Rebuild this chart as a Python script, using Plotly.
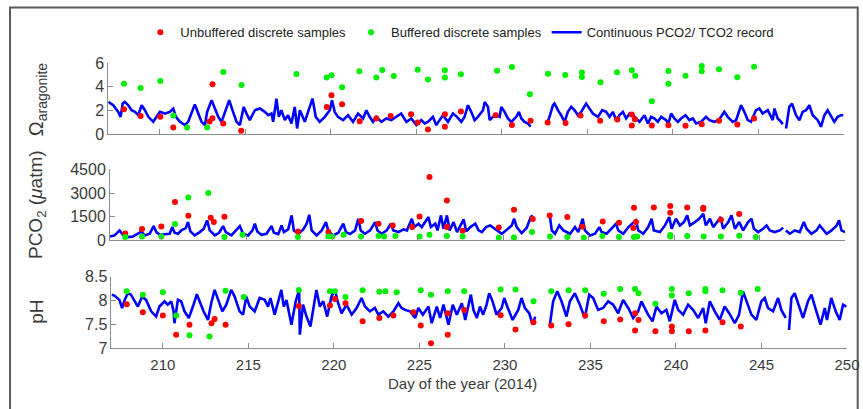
import plotly.graph_objects as go

# ---------------- data ----------------
# Panel 1: Omega aragonite
om_line_day = [207.00, 207.29, 207.58, 207.72, 207.84, 207.97, 208.17, 208.36, 208.56, 208.75,
               208.95, 209.14, 209.34, 209.63, 209.82, 210.02, 210.31, 210.60, 210.80, 210.95,
               211.19, 211.48, 211.67, 212.06, 212.26, 212.45, 212.65, 212.78, 213.04, 213.23,
               213.43, 213.62, 213.87, 214.07, 214.26, 214.50, 214.69, 214.92, 215.08, 215.27,
               215.57, 215.86, 216.15, 216.35, 216.54, 216.64, 216.83, 216.97, 217.12, 217.32,
               217.51, 217.71, 217.90, 218.04, 218.20, 218.49, 218.68, 218.94, 219.13, 219.36,
               219.66, 219.95, 220.08, 220.24, 220.43, 220.73, 221.02, 221.31, 221.60, 221.90,
               222.09, 222.28, 222.48, 222.67, 222.97, 223.26, 223.55, 223.84, 224.13, 224.43,
               224.72, 225.01, 225.30, 225.50, 225.69, 225.98, 226.18, 226.37, 226.57, 226.86,
               227.15, 227.39, 227.64, 227.83, 228.03, 228.22, 228.42, 228.61, 228.91, 229.01,
               229.20, 229.30, 229.49, 229.69, 229.88, 229.98, 230.17, 230.37, 230.56, 230.86,
               231.01, 231.15, 231.34, 231.54, 231.69, None, 232.65, 232.80, 233.00, 233.09,
               233.29, 233.48, 233.68, 233.87, 234.07, 234.26, 234.46, 234.65, 234.94, 235.14,
               235.33, 235.63, 235.88, 236.11, 236.31, 236.50, 236.70, 236.89, 237.09, 237.28,
               237.48, 237.77, 238.06, 238.35, 238.55, 238.74, 238.94, 239.13, 239.33, 239.62,
               239.75, 239.91, 240.10, 240.30, 240.49, 240.75, 240.98, 241.18, 241.37, 241.66,
               241.95, 242.15, 242.44, 242.69, 243.02, 243.22, 243.51, 243.71, 244.00, 244.19,
               244.39, 244.58, 244.87, 245.07, 245.26, 245.56, 245.85, 245.95, 246.14, 246.34,
               246.43, None, 246.63, 246.82, 246.98, 247.21, 247.41, 247.60, 247.80, 247.99,
               248.19, 248.48, 248.67, 248.87, 249.06, 249.26, 249.45, 249.65, 249.84, 249.98]
om_line_val = [2.72, 2.44, 1.88, 1.46, 2.58, 2.72, 2.44, 2.02, 1.88, 1.60,
               2.44, 2.02, 1.46, 1.04, 1.46, 1.88, 1.74, 1.88, 2.16, 1.46,
               1.04, 0.76, 1.04, 2.51, 1.74, 1.04, 0.76, 1.88, 2.86, 2.16,
               1.46, 1.04, 2.02, 2.86, 2.02, 1.04, 0.76, 2.30, 1.74, 1.18,
               2.02, 2.16, 1.88, 1.60, 1.74, 1.04, 3.00, 1.46, 2.02, 1.18,
               1.60, 0.90, 2.30, 0.48, 2.02, 1.04, 1.88, 3.00, 1.46, 1.04,
               1.46, 2.02, 2.86, 1.88, 1.46, 1.18, 1.60, 1.04, 1.74, 1.32,
               2.02, 1.46, 1.04, 1.46, 1.04, 1.32, 1.18, 1.46, 1.74, 1.04,
               1.32, 0.76, 1.18, 0.90, 1.04, 1.46, 0.76, 1.18, 1.60, 1.04,
               1.74, 1.46, 1.04, 1.46, 2.44, 1.88, 1.18, 1.46, 2.02, 2.72,
               2.30, 1.18, 1.46, 1.60, 1.46, 2.30, 1.88, 1.32, 1.04, 1.46,
               1.88, 1.32, 1.04, 0.90, 0.62, None, 0.90, 1.46, 2.44, 2.58,
               2.02, 1.60, 1.04, 1.88, 2.30, 2.02, 1.60, 1.88, 2.58, 2.16,
               1.74, 1.46, 2.02, 1.88, 1.46, 1.88, 1.18, 1.60, 1.88, 1.32,
               1.74, 1.46, 1.04, 1.60, 0.90, 1.46, 1.32, 1.04, 1.46, 1.18,
               0.90, 1.74, 1.32, 1.04, 1.32, 1.60, 1.18, 1.32, 0.90, 1.04,
               1.46, 1.18, 1.04, 1.18, 1.88, 1.46, 1.04, 1.18, 2.44, 1.88,
               1.18, 1.04, 2.02, 2.16, 1.74, 2.02, 1.18, 2.16, 1.32, 1.04,
               0.84, None, 0.48, 2.30, 2.58, 1.60, 1.18, 1.88, 2.02, 2.44,
               1.60, 1.18, 0.62, 1.60, 2.02, 1.46, 1.04, 1.46, 1.60, 1.60]

om_unbuf_day = [207.92, 208.89, 210.04, 210.80, 212.92, 213.09, 213.09, 213.72, 214.77, 219.77,
                220.05, 220.67, 221.70, 222.67, 223.51, 224.70, 225.09, 225.69, 226.68, 226.68,
                227.62, 229.65, 230.60, 231.69, 232.69, 233.74, 234.61, 235.76, 236.76, 237.61,
                237.79, 237.61, 238.78, 239.75, 240.75, 241.70, 242.71, 243.78, 244.76]
om_unbuf_val = [2.10, 1.54, 1.46, 0.56, 1.07, 1.35, 4.21, 0.90, 0.28, 2.30,
                3.28, 2.52, 1.09, 1.32, 1.54, 1.68, 0.98, 0.39, 1.68, 0.62,
                1.91, 1.60, 0.78, 1.12, 0.98, 0.95, 1.57, 1.12, 1.23, 1.65,
                1.26, 0.73, 0.73, 0.76, 0.70, 0.84, 1.12, 0.81, 1.32]

om_buf_day = [207.92, 208.89, 210.04, 210.80, 211.61, 212.78, 213.72, 214.79, 218.00, 219.77,
              220.05, 220.67, 221.68, 222.67, 223.02, 223.69, 225.09, 225.69, 226.68, 226.68,
              227.62, 229.73, 230.60, 231.65, 232.71, 233.72, 234.69, 234.69, 235.78, 236.74,
              237.61, 237.81, 238.78, 239.75, 239.75, 240.75, 241.70, 241.70, 242.71, 243.78,
              244.76]
om_buf_val = [4.26, 3.90, 4.49, 1.57, 0.56, 0.56, 5.24, 4.15, 5.07, 4.77,
              4.96, 3.95, 5.30, 4.77, 5.41, 4.91, 5.44, 4.60, 5.38, 4.77,
              5.05, 5.35, 5.66, 3.36, 5.10, 4.99, 5.19, 4.82, 4.37, 5.21,
              5.38, 4.93, 2.78, 5.33, 4.26, 4.93, 5.75, 5.30, 5.47, 4.79,
              5.69]

# Panel 2: PCO2 (uatm)
pco2_line_day = [207.00, 207.27, 207.56, 207.75, 208.05, 208.34, 208.63, 208.83, 209.02, 209.32,
                 209.55, 209.71, 209.90, 210.20, 210.49, 210.64, 210.78, 210.98, 211.17, 211.43,
                 211.56, 211.70, 211.95, 212.25, 212.48, 212.68, 212.83, 213.13, 213.38, 213.61,
                 213.77, 214.10, 214.39, 214.59, 214.79, 215.08, 215.33, 215.47, 215.61, 215.86,
                 216.15, 216.45, 216.58, 216.84, 217.03, 217.17, 217.42, 217.62, 217.75, 218.01,
                 218.30, 218.50, 218.65, 218.79, 219.08, 219.38, 219.63, 219.77, 220.06, 220.35,
                 220.64, 220.80, 221.04, 221.33, 221.52, 221.66, 221.91, 222.21, 222.50, 222.64,
                 222.89, 223.18, 223.42, 223.57, 223.87, 224.16, 224.36, 224.65, 224.79, 225.04,
                 225.23, 225.43, 225.62, 225.76, 226.02, 226.15, 226.35, 226.50, 226.70, 226.86,
                 227.09, 227.29, 227.48, 227.68, 227.83, 228.07, 228.36, 228.55, 228.74, 228.99,
                 229.23, 229.52, 229.67, 229.91, 230.20, 230.49, 230.63, 230.78, 231.07, 231.37,
                 231.60, 231.72, None, 232.73, 232.83, 233.02, 233.27, 233.51, 233.70, 233.90,
                 234.19, 234.38, 234.64, 234.77, 235.07, 235.36, 235.61, 235.75, 236.04, 236.33,
                 236.59, 236.72, 237.01, 237.31, 237.60, 237.75, 237.89, 238.18, 238.47, 238.67,
                 238.80, 239.16, 239.45, 239.70, 239.84, 240.09, 240.32, 240.56, 240.75, 240.91,
                 241.20, 241.45, 241.69, 241.84, 242.08, 242.27, 242.50, 242.70, 242.85, 243.15,
                 243.34, 243.54, 243.79, 244.02, 244.31, 244.51, 244.65, 244.90, 245.19, 245.39,
                 245.58, 245.87, 246.16, 246.36, None, 246.52, 246.75, 247.04, 247.33, 247.57,
                 247.73, 248.01, 248.31, 248.50, 248.66, 248.90, 249.19, 249.49, 249.63, 249.77,
                 249.98]
pco2_line_val = [254, 317, 634, 359, 211, 254, 423, 570, 317, 423,
                 909, 528, 359, 401, 423, 845, 486, 423, 634, 782,
                 1162, 570, 317, 528, 740, 1268, 634, 317, 486, 909,
                 528, 317, 634, 909, 401, 317, 634, 1057, 570, 359,
                 423, 909, 486, 401, 951, 528, 697, 1585, 634, 423,
                 697, 1057, 1627, 634, 317, 634, 1162, 570, 317, 486,
                 1057, 528, 401, 634, 1373, 634, 423, 634, 1162, 634,
                 423, 634, 1057, 634, 528, 697, 634, 1373, 845, 1057,
                 845, 1162, 1479, 845, 1057, 634, 1585, 740, 1585, 634,
                 1162, 528, 951, 1331, 570, 845, 1057, 634, 528, 845,
                 951, 740, 634, 423, 676, 951, 1373, 845, 465, 803,
                 1479, 1585, None, 1479, 634, 423, 951, 634, 528, 423,
                 845, 528, 1373, 634, 317, 423, 845, 528, 423, 740,
                 1057, 634, 423, 845, 1162, 1268, 634, 423, 845, 1373,
                 634, 528, 951, 1479, 740, 1373, 951, 1162, 1585, 951,
                 1162, 1373, 1690, 951, 1373, 845, 1162, 1479, 740, 1162,
                 1585, 740, 1162, 634, 1162, 1373, 740, 528, 740, 951,
                 634, 528, 634, 803, None, 634, 423, 634, 528, 1162,
                 740, 423, 634, 951, 740, 423, 634, 951, 1268, 634,
                 528]

pco2_unbuf_day = [207.89, 208.87, 210.00, 210.80, 211.58, 212.89, 213.07, 213.69, 217.99, 219.77,
                  221.68, 222.70, 223.53, 224.67, 225.10, 225.68, 226.70, 226.70, 227.62, 229.73,
                  230.62, 231.72, 232.71, 233.74, 234.62, 235.81, 236.76, 237.64, 237.75, 237.60,
                  238.80, 239.76, 239.76, 240.75, 241.69, 241.69, 242.72, 243.79]
pco2_unbuf_val = [444, 718, 887, 2430, 1564, 1437, 1162, 1500, 570, 528,
                  1226, 1057, 951, 845, 1521, 4015, 2536, 845, 613, 824,
                  1944, 1352, 1585, 1479, 866, 1204, 1120, 2071, 1162, 782,
                  2092, 2176, 1754, 2092, 2071, 1986, 1310, 1669]

pco2_buf_day = [207.89, 208.87, 210.00, 210.80, 211.58, 212.75, 213.69, 214.75, 217.99, 219.77,
                220.00, 220.66, 221.68, 222.70, 223.03, 223.69, 225.10, 225.68, 226.70, 227.62,
                229.73, 230.62, 231.68, 232.73, 233.74, 234.70, 235.79, 236.76, 237.64, 237.83,
                239.76, 239.76, 240.75, 241.71, 242.72, 243.79, 244.76]
pco2_buf_val = [211, 254, 254, 1035, 2726, 3000, 211, 359, 211, 254,
                254, 359, 254, 275, 254, 275, 254, 359, 275, 254,
                169, 190, 528, 254, 211, 169, 275, 211, 211, 254,
                338, 254, 275, 254, 254, 296, 211]

# Panel 3: pH
ph_line_day = [207.00, 207.17, 207.46, 207.62, 207.75, 207.95, 208.14, 208.34, 208.54, 208.79,
               209.02, 209.32, 209.61, 209.80, 210.10, 210.29, 210.49, 210.63, 210.68, 210.88,
               211.07, 211.27, 211.52, 211.76, 211.99, 212.15, 212.38, 212.64, 212.83, 213.03,
               213.22, 213.48, 213.71, 214.00, 214.20, 214.49, 214.69, 214.88, 215.08, 215.37,
               215.66, 215.96, 216.15, 216.29, 216.54, 216.93, 217.07, 217.23, 217.52, 217.77,
               217.97, 218.01, 218.20, 218.40, 218.63, 218.98, 219.18, 219.38, 219.61, 219.86,
               220.06, 220.25, 220.45, 220.74, 221.04, 221.33, 221.62, 221.82, 222.11, 222.40,
               222.60, 222.89, 223.18, 223.48, 223.77, 223.96, 224.16, 224.45, 224.75, 224.94,
               225.20, 225.53, 225.72, 226.02, 226.21, 226.41, 226.70, 226.95, 227.19, 227.48,
               227.68, 228.01, 228.16, 228.36, 228.54, 228.73, 228.93, 229.08, 229.28, 229.51,
               229.81, 229.96, 230.14, 230.45, 230.78, 230.97, 231.17, 231.42, 231.62, 231.77,
               None, 232.63, 232.82, 233.06, 233.31, 233.60, 233.80, 234.09, 234.38, 234.67,
               234.93, 235.16, 235.45, 235.74, 236.04, 236.33, 236.62, 236.91, 237.21, 237.50,
               237.79, 237.98, 238.18, 238.37, 238.63, 238.86, 239.15, 239.44, 239.64, 239.93,
               240.13, 240.42, 240.71, 241.00, 241.30, 241.59, 241.74, 241.98, 242.27, 242.56,
               242.85, 243.11, 243.44, 243.69, 243.92, 244.16, 244.41, 244.70, 244.99, 245.19,
               245.38, 245.68, 245.97, 246.16, 246.42, None, 246.61, 246.75, 246.94, 247.23,
               247.43, 247.72, 247.92, 248.21, 248.45, 248.70, 248.83, 249.08, 249.34, 249.57,
               249.77, 249.96]
ph_line_val = [8.12, 8.10, 8.01, 7.84, 7.99, 8.15, 8.12, 7.98, 7.87, 8.08,
               8.01, 7.77, 7.66, 7.87, 7.98, 7.91, 7.98, 7.77, 7.52, 8.01,
               7.98, 7.77, 7.63, 7.87, 8.13, 7.98, 7.77, 7.59, 7.94, 8.22,
               8.01, 7.77, 7.91, 8.22, 8.08, 7.77, 7.70, 8.08, 7.87, 7.77,
               8.05, 8.01, 7.87, 8.05, 7.70, 8.22, 7.87, 8.01, 7.49, 7.98,
               8.22, 7.28, 7.91, 7.66, 7.45, 8.22, 7.87, 7.98, 7.66, 8.08,
               8.22, 7.94, 7.73, 7.91, 7.70, 7.84, 8.05, 7.87, 7.77, 7.84,
               7.70, 7.77, 7.66, 7.77, 7.94, 7.84, 7.80, 7.77, 7.63, 7.84,
               7.70, 7.87, 7.52, 7.87, 7.63, 7.91, 7.49, 7.91, 7.70, 7.94,
               7.59, 8.12, 7.80, 7.63, 7.87, 7.70, 7.91, 8.15, 7.98, 7.70,
               7.84, 8.05, 7.87, 7.59, 7.80, 8.05, 7.84, 7.73, 7.49, 7.66,
               None, 7.49, 7.98, 8.19, 7.98, 7.66, 7.98, 8.15, 7.91, 7.63,
               8.12, 8.05, 7.80, 7.84, 7.98, 7.91, 7.73, 8.01, 7.84, 7.63,
               7.77, 7.98, 7.84, 7.70, 7.56, 7.87, 7.73, 7.80, 7.56, 8.01,
               7.80, 7.70, 7.91, 7.80, 7.63, 7.84, 7.52, 7.98, 7.77, 7.59,
               7.87, 7.73, 7.52, 7.70, 8.19, 7.94, 7.70, 7.59, 7.98, 8.05,
               7.84, 7.77, 8.05, 7.80, 7.63, None, 7.38, 8.05, 8.15, 7.84,
               7.63, 7.98, 8.12, 7.77, 7.49, 7.84, 7.59, 8.05, 7.77, 7.59,
               7.91, 7.87]

ph_unbuf_day = [207.89, 208.83, 210.00, 210.78, 211.56, 212.85, 213.03, 213.67, 217.95, 219.77,
                220.06, 220.68, 221.68, 222.66, 223.48, 224.65, 225.08, 225.68, 226.66, 226.66,
                227.62, 229.75, 230.62, 231.67, 232.71, 233.72, 234.69, 235.78, 236.74, 237.61,
                237.61, 237.81, 238.80, 239.76, 239.76, 240.75, 241.72, 242.72, 243.79]
ph_unbuf_val = [7.92, 7.75, 7.68, 7.28, 7.49, 7.52, 7.61, 7.49, 7.88, 7.89,
                8.03, 7.94, 7.56, 7.63, 7.68, 7.75, 7.47, 7.10, 7.28, 7.73,
                7.80, 7.69, 7.39, 7.54, 7.47, 7.50, 7.68, 7.56, 7.60, 7.73,
                7.37, 7.59, 7.35, 7.45, 7.35, 7.35, 7.37, 7.54, 7.45]

ph_buf_day = [207.89, 208.83, 210.00, 210.78, 211.56, 212.73, 213.67, 214.73, 217.95, 219.77,
              220.06, 220.68, 221.68, 222.66, 223.01, 223.67, 225.08, 225.68, 226.66, 227.62,
              229.75, 230.62, 231.67, 232.71, 233.72, 234.69, 235.78, 236.74, 237.61, 237.81,
              238.80, 239.76, 239.76, 240.75, 241.72, 241.72, 242.72, 243.79, 244.78]
ph_buf_val = [8.19, 8.12, 8.17, 7.68, 7.27, 7.24, 8.20, 8.07, 8.22, 8.19,
              8.19, 8.07, 8.21, 8.18, 8.19, 8.17, 8.21, 8.12, 8.19, 8.19,
              8.23, 8.23, 7.98, 8.19, 8.21, 8.21, 8.14, 8.24, 8.24, 8.15,
              7.93, 8.24, 8.10, 8.15, 8.24, 8.19, 8.21, 8.16, 8.24]

x_ticks = [210, 215, 220, 225, 230, 235, 240, 245, 250]
y1_ticks = [0, 2, 4, 6]
y2_ticks = [0, 1500, 3000, 4500]
y3_ticks = [7, 7.5, 8, 8.5]

legend_names = ["Unbuffered discrete samples", "Buffered discrete samples",
                "Continuous PCO2/ TCO2 record"]

# ---------------- layout geometry (pixels) ----------------
W, H = 863, 409
ML, MR, MT, MB = 108.0, 15.7, 62.7, 60.7
PW, PH = W - ML - MR, H - MT - MB


def px2x(px):
    return (px - ML) / PW


def py2y(py):
    return 1 - (py - MT) / PH


FONT = "Liberation Sans, Arial, Helvetica, sans-serif"
RED, GREEN, BLUE = "#ff0000", "#00ee00", "#0000ff"
AXC = "#8c8c8c"
TXT = "#3a3a3a"

fig = go.Figure()

panels = [
    ("x", "y", om_line_day, om_line_val, om_unbuf_day, om_unbuf_val, om_buf_day, om_buf_val),
    ("x2", "y2", pco2_line_day, pco2_line_val, pco2_unbuf_day, pco2_unbuf_val, pco2_buf_day, pco2_buf_val),
    ("x3", "y3", ph_line_day, ph_line_val, ph_unbuf_day, ph_unbuf_val, ph_buf_day, ph_buf_val),
]
for i, (xa, ya, ld, lv, ud, uv, bd, bv) in enumerate(panels):
    first = (i == 0)
    fig.add_trace(go.Scatter(x=ld, y=lv, mode="lines", xaxis=xa, yaxis=ya,
                             line=dict(color=BLUE, width=2.6), connectgaps=False,
                             name=legend_names[2], showlegend=first, legendrank=3))
    fig.add_trace(go.Scatter(x=ud, y=uv, mode="markers", xaxis=xa, yaxis=ya,
                             marker=dict(color=RED, size=6, line=dict(width=0)),
                             name=legend_names[0], showlegend=first, legendrank=1))
    fig.add_trace(go.Scatter(x=bd, y=bv, mode="markers", xaxis=xa, yaxis=ya,
                             marker=dict(color=GREEN, size=6, line=dict(width=0)),
                             name=legend_names[1], showlegend=first, legendrank=2))

common_x = dict(range=[207, 250], tickvals=x_ticks, ticks="inside", ticklen=5,
                tickcolor=AXC, showline=True, linecolor=AXC, linewidth=1,
                showgrid=False, zeroline=False, mirror=False, automargin=False,
                tickfont=dict(family=FONT, size=15, color=TXT))
common_y = dict(ticks="inside", ticklen=5, tickcolor=AXC, showline=True,
                linecolor=AXC, linewidth=1, showgrid=False, zeroline=False,
                mirror=False, automargin=False,
                tickfont=dict(family=FONT, size=16, color=TXT))

fig.update_layout(
    width=W, height=H,
    margin=dict(l=ML, r=MR, t=MT, b=MB, autoexpand=False),
    paper_bgcolor="white", plot_bgcolor="white",
    font=dict(family=FONT, color=TXT),
    xaxis=dict(domain=[px2x(108.3), px2x(844.0)], anchor="y", showticklabels=False, **common_x),
    xaxis2=dict(domain=[px2x(110.0), px2x(845.7)], anchor="y2", showticklabels=False, **common_x),
    xaxis3=dict(domain=[px2x(111.5), px2x(847.3)], anchor="y3", showticklabels=True,
                ticklabelstandoff=3, **common_x),
    yaxis=dict(domain=[py2y(134.0), py2y(62.7)], anchor="x", range=[0, 6], tickvals=y1_ticks, **common_y),
    yaxis2=dict(domain=[py2y(240.5), py2y(169.3)], anchor="x2", range=[0, 4500], tickvals=y2_ticks, **common_y),
    yaxis3=dict(domain=[py2y(348.3), py2y(276.7)], anchor="x3", range=[7, 8.5], tickvals=y3_ticks,
                tickformat=".1~f", **common_y),
    legend=dict(orientation="h", x=px2x(460), xanchor="center", y=py2y(32), yanchor="middle",
                font=dict(family=FONT, size=13, color="#222"), bgcolor="rgba(0,0,0,0)",
                itemwidth=30, traceorder="normal", tracegroupgap=0),
    showlegend=True,
)

# y-axis titles and x-axis title
fig.add_annotation(text="Ω<sub>aragonite</sub>", x=px2x(37), y=py2y(99), xref="paper", yref="paper",
                   textangle=-90, showarrow=False, xanchor="center", yanchor="middle",
                   font=dict(family=FONT, size=20, color=TXT))
fig.add_annotation(text="PCO<sub>2</sub> (<i>μ</i>atm)", x=px2x(37), y=py2y(205), xref="paper", yref="paper",
                   textangle=-90, showarrow=False, xanchor="center", yanchor="middle",
                   font=dict(family=FONT, size=19, color=TXT))
fig.add_annotation(text="pH", x=px2x(37), y=py2y(312), xref="paper", yref="paper",
                   textangle=-90, showarrow=False, xanchor="center", yanchor="middle",
                   font=dict(family=FONT, size=19, color=TXT))
fig.add_annotation(text="Day of the year (2014)", x=px2x(463), y=py2y(384), xref="paper", yref="paper",
                   showarrow=False, xanchor="center", yanchor="middle",
                   font=dict(family=FONT, size=15, color=TXT))

# outer frame of the figure
fig.add_shape(type="rect", xref="paper", yref="paper",
              x0=px2x(10), x1=px2x(858), y0=py2y(430), y1=py2y(7),
              line=dict(color="#5a5a5a", width=2), fillcolor="rgba(0,0,0,0)", layer="below")

fig.write_html("out.html")
